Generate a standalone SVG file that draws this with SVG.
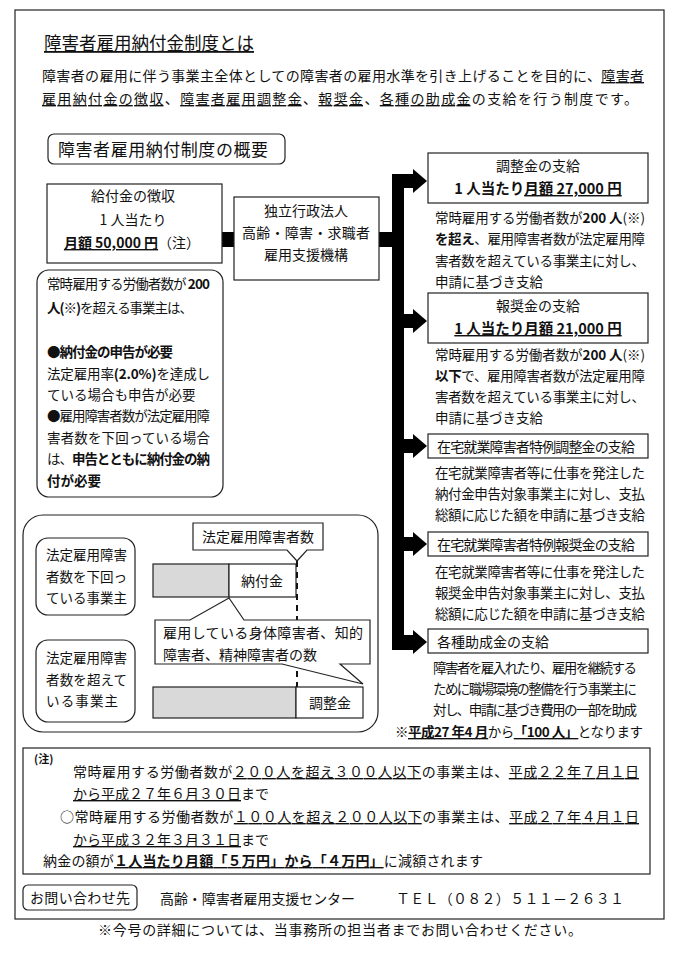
<svg xmlns="http://www.w3.org/2000/svg" width="680" height="960" viewBox="0 0 680 960">
<style>
text{font-family:"Noto Sans CJK JP","Noto Sans CJK SC",sans-serif;font-size:14px;fill:#111}
.b{font-weight:bold}
.u{text-decoration:underline}
.box{fill:#fff;stroke:#222;stroke-width:1.2}
.mid{text-anchor:middle}
.bar{fill:#000}
.gray{fill:#d9d9d9;stroke:#222;stroke-width:1.2}
</style>
<rect width="680" height="960" fill="#fff"/>
<rect x="15" y="10" width="649" height="909" fill="none" stroke="#222" stroke-width="1.2"/>

<g id="title">
<text x="44" y="50" style="font-size:18px" class="u" textLength="210" lengthAdjust="spacingAndGlyphs">障害者雇用納付金制度とは</text>
</g>
<g id="intro">
<text x="42" y="81" textLength="602">障害者の雇用に伴う事業主全体としての障害者の雇用水準を引き上げることを目的に、<tspan class="u">障害者</tspan></text>
<text x="42" y="104" textLength="596"><tspan class="u">雇用納付金の徴収</tspan>、<tspan class="u">障害者雇用調整金</tspan>、<tspan class="u">報奨金</tspan>、<tspan class="u">各種の助成金</tspan>の支給を行う制度です。</text>
</g>

<g id="overview-label">
<rect x="48" y="134" width="237" height="30" rx="6" class="box"/>
<text x="58" y="156" style="font-size:17px" textLength="210">障害者雇用納付制度の概要</text>
</g>

<g id="connectors">
<rect class="bar" x="222" y="232" width="13" height="15"/>
<rect class="bar" x="378" y="232" width="15" height="15"/>
<rect class="bar" x="392" y="174" width="12" height="476"/>
<rect class="bar" x="392" y="174" width="22" height="14"/>
<polygon class="bar" points="413,169 427,181 413,193"/>
<rect class="bar" x="403" y="314" width="11" height="14"/>
<polygon class="bar" points="413,309 427,321 413,333"/>
<rect class="bar" x="403" y="439" width="11" height="14"/>
<polygon class="bar" points="413,434 427,446 413,458"/>
<rect class="bar" x="403" y="537" width="11" height="14"/>
<polygon class="bar" points="413,532 427,544 413,556"/>
<rect class="bar" x="392" y="635" width="22" height="15"/>
<polygon class="bar" points="413,630 427,642 413,654"/>
</g>

<g id="collect">
<rect x="47" y="184" width="175" height="79" class="box"/>
<text x="133" y="201" class="mid">給付金の徴収</text>
<text x="133" y="225" class="mid">1 人当たり</text>
<text x="132" y="248" class="mid"><tspan class="b u">月額 50,000 円</tspan>（注）</text>
</g>

<g id="jeed">
<rect x="234" y="197" width="145" height="83" class="box"/>
<text x="306" y="216" class="mid">独立行政法人</text>
<text x="306" y="238" class="mid" textLength="128">高齢・障害・求職者</text>
<text x="306" y="260" class="mid">雇用支援機構</text>
</g>

<g id="levy-note">
<rect x="37" y="270" width="186" height="227" rx="12" class="box"/>
<text x="47" y="289" textLength="163" style="font-size:13.5px">常時雇用する労働者数が <tspan class="b">200</tspan></text>
<text x="47" y="313" textLength="146" style="font-size:13.5px"><tspan class="b">人(※)</tspan>を超える事業主は、</text>
<text x="47" y="357" textLength="126" style="font-size:13.5px" class="b">●納付金の申告が必要</text>
<text x="47" y="379" textLength="163" style="font-size:13.5px">法定雇用率<tspan class="b">(2.0%)</tspan>を達成し</text>
<text x="47" y="400" style="font-size:13.5px">ている場合も申告が必要</text>
<text x="47" y="421" textLength="163" style="font-size:13.5px">●雇用障害者数が法定雇用障</text>
<text x="47" y="443" textLength="163" style="font-size:13.5px">害者数を下回っている場合</text>
<text x="47" y="464" textLength="163" style="font-size:13.5px">は、<tspan class="b">申告とともに納付金の納</tspan></text>
<text x="47" y="486" style="font-size:13.5px" class="b">付が必要</text>
</g>

<g id="adjust">
<rect x="428" y="153" width="220" height="50" class="box"/>
<text x="538" y="171" class="mid">調整金の支給</text>
<text x="538" y="194" class="mid b" style="font-size:14.5px">1 人当たり<tspan class="u">月額 27,000 円</tspan></text>
<text x="435" y="223" textLength="210" style="font-size:13.5px">常時雇用する労働者数が<tspan class="b">200 人</tspan>(※)</text>
<text x="435" y="244" textLength="210" style="font-size:13.5px"><tspan class="b">を超え</tspan>、雇用障害者数が法定雇用障</text>
<text x="435" y="266" textLength="210" style="font-size:13.5px">害者数を超えている事業主に対し、</text>
<text x="435" y="287" style="font-size:13.5px">申請に基づき支給</text>
</g>

<g id="reward">
<rect x="428" y="293" width="220" height="50" class="box"/>
<text x="538" y="311" class="mid">報奨金の支給</text>
<text x="538" y="334" class="mid b u" style="font-size:14.5px">1 人当たり月額 21,000 円</text>
<text x="435" y="360" textLength="210" style="font-size:13.5px">常時雇用する労働者数が<tspan class="b">200 人</tspan>(※)</text>
<text x="435" y="381" textLength="210" style="font-size:13.5px"><tspan class="b">以下</tspan>で、雇用障害者数が法定雇用障</text>
<text x="435" y="402" textLength="210" style="font-size:13.5px">害者数を超えている事業主に対し、</text>
<text x="435" y="423" style="font-size:13.5px">申請に基づき支給</text>
</g>

<g id="home-adjust">
<rect x="428" y="434" width="220" height="24" class="box"/>
<text x="437" y="452" textLength="198">在宅就業障害者特例調整金の支給</text>
<text x="435" y="478" textLength="210" style="font-size:13.5px">在宅就業障害者等に仕事を発注した</text>
<text x="435" y="499" textLength="210" style="font-size:13.5px">納付金申告対象事業主に対し、支払</text>
<text x="435" y="520" textLength="210" style="font-size:13.5px">総額に応じた額を申請に基づき支給</text>
</g>

<g id="home-reward">
<rect x="428" y="532" width="220" height="24" class="box"/>
<text x="437" y="550" textLength="198">在宅就業障害者特例報奨金の支給</text>
<text x="435" y="577" textLength="210" style="font-size:13.5px">在宅就業障害者等に仕事を発注した</text>
<text x="435" y="598" textLength="210" style="font-size:13.5px">報奨金申告対象事業主に対し、支払</text>
<text x="435" y="619" textLength="210" style="font-size:13.5px">総額に応じた額を申請に基づき支給</text>
</g>

<g id="grants">
<rect x="428" y="629" width="220" height="24" class="box"/>
<text x="437" y="647">各種助成金の支給</text>
<text x="433" y="673" textLength="204" style="font-size:13.5px">障害者を雇入れたり、雇用を継続する</text>
<text x="433" y="694" textLength="204" style="font-size:13.5px">ために職場環境の整備を行う事業主に</text>
<text x="433" y="715" textLength="204" style="font-size:13.5px">対し、申請に基づき費用の一部を助成</text>
<text x="395" y="737" textLength="248" style="font-size:13.5px">※<tspan class="b u">平成27 年4 月</tspan>から<tspan class="b u">「100 人」</tspan>となります</text>
</g>

<g id="illustration">
<rect x="23" y="515" width="355" height="217" rx="20" class="box"/>
<g id="below-employer">
<rect x="36" y="538" width="99" height="77" rx="12" class="box"/>
<text x="46" y="560" style="font-size:13.5px" textLength="81">法定雇用障害</text>
<text x="46" y="582" style="font-size:13.5px" textLength="81">者数を下回っ</text>
<text x="46" y="603" style="font-size:13.5px" textLength="81">ている事業主</text>
</g>
<g id="above-employer">
<rect x="36" y="640" width="99" height="82" rx="12" class="box"/>
<text x="46" y="663" style="font-size:13.5px" textLength="81">法定雇用障害</text>
<text x="46" y="685" style="font-size:13.5px" textLength="81">者数を超えて</text>
<text x="46" y="706" style="font-size:13.5px" textLength="72">いる事業主</text>
</g>
<g id="bar1">
<rect x="153" y="564" width="76" height="33" class="gray"/>
<rect x="229" y="564" width="67" height="33" class="box"/>
<text x="262" y="586" class="mid">納付金</text>
</g>
<g id="bar2">
<rect x="153" y="687" width="143" height="31" class="gray"/>
<rect x="296" y="687" width="67" height="31" class="box"/>
<text x="330" y="708" class="mid">調整金</text>
</g>
<line x1="297" y1="561" x2="297" y2="687" stroke="#111" stroke-width="2" stroke-dasharray="6,5"/>
<g id="callout-legal">
<path d="M193,523 H323 V550 H307 L297,561 L287,550 H193 Z" class="box"/>
<text x="258" y="542" class="mid">法定雇用障害者数</text>
</g>
<g id="callout-employed">
<path d="M155,620 H190 L229,598 L244,620 H370 V664 H340 L363,684 L282,664 H155 Z" class="box"/>
<text x="163" y="638" textLength="200">雇用している身体障害者、知的</text>
<text x="163" y="660">障害者、精神障害者の数</text>
</g>
</g>

<g id="notes">
<rect x="23" y="748" width="627" height="126" class="box"/>
<text x="34" y="763" class="b" style="font-size:11px">(注)</text>
<text x="73" y="777" textLength="566">常時雇用する労働者数が<tspan class="u">２００人を超え３００人以下</tspan>の事業主は、<tspan class="u">平成２２年７月１日</tspan></text>
<text x="73" y="799"><tspan class="u">から平成２７年６月３０日</tspan>まで</text>
<text x="60" y="822" textLength="579">○常時雇用する労働者数が<tspan class="u">１００人を超え２００人以下</tspan>の事業主は、<tspan class="u">平成２７年４月１日</tspan></text>
<text x="73" y="845"><tspan class="u">から平成３２年３月３１日</tspan>まで</text>
<text x="43" y="866" textLength="440">納金の額が<tspan class="b u">１人当たり月額「５万円」から「４万円」</tspan>に減額されます</text>
</g>

<g id="contact">
<rect x="23" y="885" width="114" height="25" rx="5" class="box"/>
<text x="80" y="903" class="mid" textLength="100">お問い合わせ先</text>
<text x="160" y="904" textLength="195">高齢・障害者雇用支援センター</text>
<text x="396" y="904" textLength="228">ＴＥＬ（０８２）５１１－２６３１</text>
</g>

<text x="340" y="935" class="mid" textLength="484">※今号の詳細については、当事務所の担当者までお問い合わせください。</text>
</svg>
